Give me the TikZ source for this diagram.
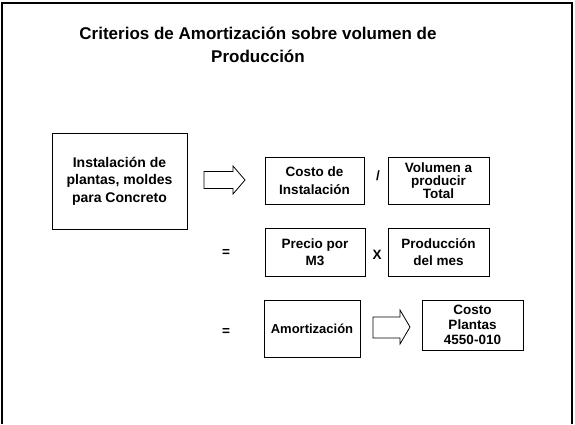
\documentclass[tikz,border=0pt]{standalone}
\usepackage{fontspec}
\setmainfont{Liberation Sans}
\begin{document}
\begin{tikzpicture}[x=1pt,y=-1pt,
  box/.style={draw, line width=0.9pt, align=center, font=\bfseries\fontsize{13.5}{17.5}\selectfont, inner sep=0pt},
  barrow/.style={draw, line width=0.8pt, line join=miter},
  op/.style={font=\bfseries\fontsize{13.5}{15}\selectfont, inner sep=0pt},
  frame/.style={line width=2.2pt}]
\useasboundingbox (0,0) rectangle (575,424);
\draw[frame] (2,424) -- (2,3) -- (572,3) -- (572,424);
\node[font=\bfseries\fontsize{17}{23}\selectfont, align=center] (title) at (258,45)
  {Criterios de Amortización sobre volumen de\\Producción};
\node[box, minimum width=135pt, minimum height=96pt, font=\bfseries\fontsize{14}{17.5}\selectfont] (inst) at (119.5,181)
  {Instalación de\\plantas, moldes\\para Concreto};
\node[box, minimum width=99pt, minimum height=47pt] (costo) at (314.5,180.5)
  {Costo de\\Instalación};
\node[box, minimum width=101pt, minimum height=47pt, font=\bfseries\fontsize{13.5}{13}\selectfont] (vol) at (438.5,180.5)
  {Volumen a\\producir\\Total};
\node[box, minimum width=100pt, minimum height=48pt] (precio) at (315,252)
  {Precio por\\M3};
\node[box, minimum width=101pt, minimum height=48pt] (prod) at (438.5,252)
  {Producción\\del mes};
\node[box, minimum width=96pt, minimum height=57pt, font=\bfseries\fontsize{13}{15}\selectfont] (amort) at (312,328.5)
  {Amortización};
\node[box, minimum width=101pt, minimum height=50pt, font=\bfseries\fontsize{13.5}{15}\selectfont] (plantas) at (472.5,325)
  {Costo\\Plantas\\4550-010};
\node[op] (div) at (378,176) {/};
\node[op] (times) at (377,255) {X};
\node[op] (eq1) at (226,253) {=};
\node[op] (eq2) at (226,332) {=};
\draw[barrow] (204,171.5) -- (233,171.5) -- (233,166) -- (245,180) -- (233,194) -- (233,188.5) -- (204,188.5) -- cycle;
\draw[barrow] (373,317) -- (400,317) -- (400,310) -- (410,327) -- (400,344) -- (400,338) -- (373,338) -- cycle;
\end{tikzpicture}
\end{document}
